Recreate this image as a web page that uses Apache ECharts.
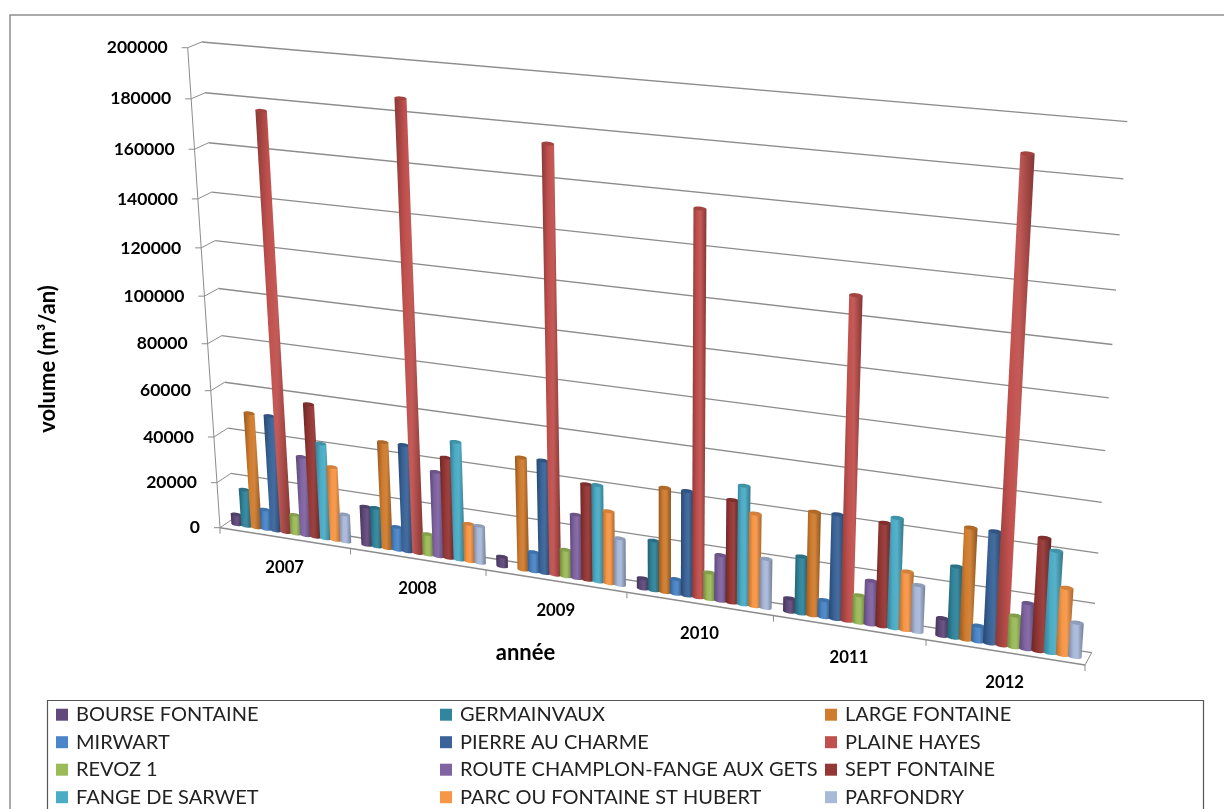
<!DOCTYPE html>
<html>
<head>
<meta charset="utf-8">
<script src="https://cdn.jsdelivr.net/npm/echarts@6/dist/echarts.min.js"></script>
<style>
  html, body { margin: 0; padding: 0; background: #fff; }
  #chart { width: 1224px; height: 809px; }
</style>
</head>
<body>
<div id="chart"></div>
<script>
const years = ["2007", "2008", "2009", "2010", "2011", "2012"];
const yTicks = [0, 20000, 40000, 60000, 80000, 100000, 120000, 140000, 160000, 180000, 200000];

const bourseFontaine = [4500, 16800, 4200, 4400, 5600, 7200];
const germainvaux = [16200, 17000, 0, 21000, 23700, 29000];
const largeFontaine = [50300, 46000, 47800, 43700, 42700, 45300];
const mirwart = [8700, 10000, 8300, 6200, 7100, 6400];
const pierreAuCharme = [50300, 46000, 47800, 43700, 43000, 45200];
const plaineHayes = [176500, 186500, 174500, 155700, 129400, 187500];
const revoz1 = [8400, 9000, 11400, 11200, 11300, 12800];
const routeChamplon = [34500, 36500, 27000, 19200, 18000, 18600];
const septFontaine = [57800, 43200, 40500, 42700, 42300, 45400];
const fangeDeSarwet = [41500, 50500, 40800, 49200, 45000, 41000];
const parcOuFontaine = [32000, 16200, 30500, 38500, 24000, 27000];
const parfondry = [12000, 16000, 19800, 20500, 19200, 13800];

const seriesNames = [
  "BOURSE FONTAINE", "GERMAINVAUX", "LARGE FONTAINE",
  "MIRWART", "PIERRE AU CHARME", "PLAINE HAYES",
  "REVOZ 1", "ROUTE CHAMPLON-FANGE AUX GETS", "SEPT FONTAINE",
  "FANGE DE SARWET", "PARC OU FONTAINE ST HUBERT", "PARFONDRY"
];
const seriesValues = [
  bourseFontaine, germainvaux, largeFontaine,
  mirwart, pierreAuCharme, plaineHayes,
  revoz1, routeChamplon, septFontaine,
  fangeDeSarwet, parcOuFontaine, parfondry
];
const seriesColors = [
  "#604a7b", "#31859c", "#d07c2e",
  "#4a86c8", "#3a6499", "#c0504d",
  "#9bbb59", "#8064a2", "#953735",
  "#4bacc6", "#f79646", "#a9b9da"
];

// corners of the planes as seen on the photo: bottom-left, bottom-right, top-left, top-right
const backWall = [[234, 518], [1091.7, 652.7], [201.7, 42], [1127.3, 121.7]];
const frontEdge = [[220, 527.7], [1085, 665], [187.7, 47.7], [1120, 131]];
const barPlane = backWall.map((p, i) => [(p[0] + frontEdge[i][0]) / 2, (p[1] + frontEdge[i][1]) / 2]);

// unit square -> quad
function makeProjection(q) {
  const [p0, p1, p3, p2] = [q[0], q[1], q[2], q[3]];
  const dx1 = p1[0] - p2[0], dx2 = p3[0] - p2[0], sx = p0[0] - p1[0] + p2[0] - p3[0];
  const dy1 = p1[1] - p2[1], dy2 = p3[1] - p2[1], sy = p0[1] - p1[1] + p2[1] - p3[1];
  const det = dx1 * dy2 - dx2 * dy1;
  const g = (sx * dy2 - dx2 * sy) / det;
  const h = (dx1 * sy - sx * dy1) / det;
  const a = p1[0] - p0[0] + g * p1[0], b = p3[0] - p0[0] + h * p3[0], c = p0[0];
  const d = p1[1] - p0[1] + g * p1[1], e = p3[1] - p0[1] + h * p3[1], f = p0[1];
  return (s, t) => {
    const w = g * s + h * t + 1;
    return [(a * s + b * t + c) / w, (d * s + e * t + f) / w];
  };
}
const wallProj = makeProjection(backWall);
const frontProj = makeProjection(frontEdge);
const barProj = makeProjection(barPlane);

const GRID = { left: 100, top: 50, width: 600, height: 500 };

// api.coord gives the flat grid position, this tilts it into the perspective
function toUnit(pt) {
  return [(pt[0] - GRID.left) / GRID.width, 1 - (pt[1] - GRID.top) / GRID.height];
}

function ellipsePts(cx, cy, rx, ry, rot, from, to) {
  const pts = [];
  for (let i = 0; i <= 20; i++) {
    const a = from + (to - from) * i / 20;
    const x = rx * Math.cos(a), y = ry * Math.sin(a);
    pts.push([cx + x * Math.cos(rot) - y * Math.sin(rot), cy + x * Math.sin(rot) + y * Math.cos(rot)]);
  }
  return pts;
}

function shade(hex, k) {
  const n = parseInt(hex.slice(1), 16);
  const c = [n >> 16, (n >> 8) & 255, n & 255].map(v => Math.round(k < 1 ? v * k : v + (255 - v) * (k - 1)));
  return "rgb(" + c.join(",") + ")";
}

const BAR_STEP = 1 / 13.1;
const BAR_HALF = 0.042;

function renderBar(params, api) {
  const cat = api.value(0), val = api.value(1);
  if (!val) return null;
  const si = params.seriesIndex;
  const color = seriesColors[si];
  const u = cat + (si + 1) * BAR_STEP;
  const flat = (x, v) => toUnit(api.coord([x, v]));
  const at = (x, v) => { const p = flat(x, v); return barProj(p[0], p[1]); };
  const bl = at(u - BAR_HALF, 0), br = at(u + BAR_HALF, 0);
  const tl = at(u - BAR_HALF, val), tr = at(u + BAR_HALF, val);
  const rotB = Math.atan2(br[1] - bl[1], br[0] - bl[0]);
  const rotT = Math.atan2(tr[1] - tl[1], tr[0] - tl[0]);
  const rxB = Math.hypot(br[0] - bl[0], br[1] - bl[1]) / 2;
  const rxT = Math.hypot(tr[0] - tl[0], tr[1] - tl[1]) / 2;
  const bc = [(bl[0] + br[0]) / 2, (bl[1] + br[1]) / 2];
  const tc = [(tl[0] + tr[0]) / 2, (tl[1] + tr[1]) / 2];
  const bottom = ellipsePts(bc[0], bc[1], rxB, rxB * 0.3, rotB, Math.PI, 0);
  const body = [tl].concat(bottom, [tr]);
  return {
    type: "group",
    children: [
      {
        type: "polygon",
        shape: { points: body },
        style: {
          fill: new echarts.graphic.LinearGradient(0, 0, 1, 0, [
            { offset: 0, color: shade(color, 0.72) },
            { offset: 0.35, color: shade(color, 1.0) },
            { offset: 0.6, color: shade(color, 1.06) },
            { offset: 1, color: shade(color, 0.68) }
          ])
        }
      },
      {
        type: "polygon",
        shape: { points: ellipsePts(tc[0], tc[1], rxT, rxT * 0.3, rotT, 0, Math.PI * 2) },
        style: { fill: shade(color, 0.85) }
      }
    ]
  };
}

// walls, grid lines, ticks and labels of the tilted axes
function renderFrame(params, api) {
  const kids = [];
  const line = (a, b, w) => kids.push({
    type: "line",
    shape: { x1: a[0], y1: a[1], x2: b[0], y2: b[1] },
    style: { stroke: "#8c8c8c", lineWidth: w || 1.3 }
  });
  const flat = (x, v) => toUnit(api.coord([x, v]));
  const pos = (proj, x, v) => { const p = flat(x, v); return proj(p[0], p[1]); };

  yTicks.forEach(v => {
    const f = pos(frontProj, 0, v), b = pos(wallProj, 0, v), r = pos(wallProj, 6, v);
    line(b, r);
    line(f, b, 1);
    line([f[0] - 6, f[1]], f, 1);
    kids.push({
      type: "text",
      style: {
        text: String(v), x: f[0] - 20, y: f[1],
        align: "right", verticalAlign: "middle",
        font: "bold 17.5px Lato", fill: "#000"
      }
    });
  });
  line(pos(frontProj, 0, 0), pos(frontProj, 0, 200000), 1);
  line(pos(frontProj, 0, 0), pos(frontProj, 6, 0), 1.4);
  line(pos(frontProj, 6, 0), pos(wallProj, 6, 0), 1);
  years.forEach((y, i) => {
    const m = pos(frontProj, i + 0.5, 0);
    kids.push({
      type: "text",
      style: {
        text: y, x: m[0], y: m[1] + 30,
        align: "center", verticalAlign: "middle",
        font: "bold 16.7px Lato", fill: "#000"
      }
    });
  });
  for (let i = 0; i <= 6; i++) {
    const t = pos(frontProj, i, 0);
    line(t, [t[0], t[1] + 6], 1);
  }
  return { type: "group", children: kids };
}

function legendFor(names, left) {
  return {
    orient: "vertical", left: left, top: 704.7, height: 130, padding: 0,
    data: names, icon: "rect",
    itemWidth: 12, itemHeight: 12, itemGap: 7.5,
    selectedMode: false,
    textStyle: { fontFamily: "Lato", fontSize: 20, color: "#222", padding: [0, 0, 0, 3], lineHeight: 20 }
  };
}
const col = i => seriesNames.filter((n, j) => j % 3 === i);

const chart = echarts.init(document.getElementById("chart"), null, { renderer: "canvas" });
chart.setOption({
  backgroundColor: "#fff",
  animation: false,
  grid: GRID,
  xAxis: { type: "value", min: 0, max: 6, show: false },
  yAxis: { type: "value", min: 0, max: 200000, show: false },
  legend: [legendFor(col(0), 56), legendFor(col(1), 440), legendFor(col(2), 825)],
  graphic: [
    { type: "rect", silent: true, z: -1, shape: { x: 10, y: 15, width: 1300, height: 900 },
      style: { fill: "none", stroke: "#8f8f8f", lineWidth: 1.5 } },
    { type: "rect", silent: true, z: -1, shape: { x: 47.5, y: 700.5, width: 1156, height: 200 },
      style: { fill: "none", stroke: "#555", lineWidth: 1.2 } },
    { type: "text", x: 525.5, y: 653, silent: true,
      style: { text: "année", font: "bold 22px Lato", fill: "#000", align: "center", verticalAlign: "middle" } },
    { type: "text", x: 48, y: 359, rotation: Math.PI / 2, silent: true,
      style: { text: "volume (m\u00b3/an)", font: "bold 22px Lato", fill: "#000", align: "center", verticalAlign: "middle" } }
  ],
  series: seriesNames.map((name, i) => ({
    type: "custom",
    name: name,
    z: 2,
    coordinateSystem: "cartesian2d",
    clip: false,
    itemStyle: { color: seriesColors[i] },
    data: seriesValues[i].map((v, c) => [c, v]),
    renderItem: renderBar
  })).concat([
    {
      type: "custom", name: "frame", silent: true, z: 1,
      coordinateSystem: "cartesian2d",
      data: [[0, 0]],
      renderItem: renderFrame
    }
  ])
});
</script>
</body>
</html>
